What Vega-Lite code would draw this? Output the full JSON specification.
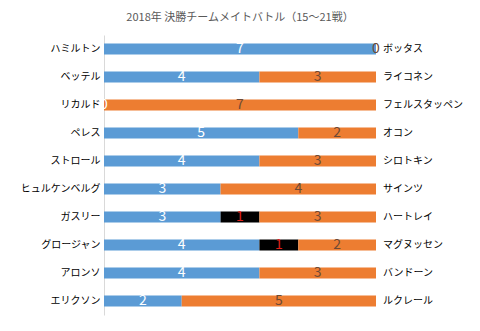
{
  "$schema": "https://vega.github.io/schema/vega-lite/v6.json",
  "width": 272,
  "height": 280,
  "autosize": {"type": "none"},
  "padding": {"left": 104, "top": 35, "right": 104, "bottom": 16},
  "background": "white",
  "title": {"text": "2018年 決勝チームメイトバトル（15～21戦）", "fontSize": 11, "font": "Noto Sans CJK JP", "fontWeight": "normal", "color": "#595959", "offset": 12},
  "config": {"view": {"stroke": null}, "font": "Noto Sans CJK JP"},
  "datasets": {
    "seg": [
      {"driver": "ハミルトン", "seg": "blue", "order": 1, "value": 7},
      {"driver": "ハミルトン", "seg": "orange", "order": 3, "value": 0},
      {"driver": "ベッテル", "seg": "blue", "order": 1, "value": 4},
      {"driver": "ベッテル", "seg": "orange", "order": 3, "value": 3},
      {"driver": "リカルド", "seg": "blue", "order": 1, "value": 0},
      {"driver": "リカルド", "seg": "orange", "order": 3, "value": 7},
      {"driver": "ペレス", "seg": "blue", "order": 1, "value": 5},
      {"driver": "ペレス", "seg": "orange", "order": 3, "value": 2},
      {"driver": "ストロール", "seg": "blue", "order": 1, "value": 4},
      {"driver": "ストロール", "seg": "orange", "order": 3, "value": 3},
      {"driver": "ヒュルケンベルグ", "seg": "blue", "order": 1, "value": 3},
      {"driver": "ヒュルケンベルグ", "seg": "orange", "order": 3, "value": 4},
      {"driver": "ガスリー", "seg": "blue", "order": 1, "value": 3},
      {"driver": "ガスリー", "seg": "black", "order": 2, "value": 1},
      {"driver": "ガスリー", "seg": "orange", "order": 3, "value": 3},
      {"driver": "グロージャン", "seg": "blue", "order": 1, "value": 4},
      {"driver": "グロージャン", "seg": "black", "order": 2, "value": 1},
      {"driver": "グロージャン", "seg": "orange", "order": 3, "value": 2},
      {"driver": "アロンソ", "seg": "blue", "order": 1, "value": 4},
      {"driver": "アロンソ", "seg": "orange", "order": 3, "value": 3},
      {"driver": "エリクソン", "seg": "blue", "order": 1, "value": 2},
      {"driver": "エリクソン", "seg": "orange", "order": 3, "value": 5}
    ],
    "pairs": [
      {"driver": "ハミルトン", "teammate": "ボッタス"},
      {"driver": "ベッテル", "teammate": "ライコネン"},
      {"driver": "リカルド", "teammate": "フェルスタッペン"},
      {"driver": "ペレス", "teammate": "オコン"},
      {"driver": "ストロール", "teammate": "シロトキン"},
      {"driver": "ヒュルケンベルグ", "teammate": "サインツ"},
      {"driver": "ガスリー", "teammate": "ハートレイ"},
      {"driver": "グロージャン", "teammate": "マグヌッセン"},
      {"driver": "アロンソ", "teammate": "バンドーン"},
      {"driver": "エリクソン", "teammate": "ルクレール"}
    ]
  },
  "encoding": {
    "y": {
      "field": "driver", "type": "nominal",
      "sort": ["ハミルトン", "ベッテル", "リカルド", "ペレス", "ストロール", "ヒュルケンベルグ", "ガスリー", "グロージャン", "アロンソ", "エリクソン"],
      "scale": {"paddingInner": 0.6, "paddingOuter": 0.3},
      "axis": {"title": null, "ticks": false, "domainColor": "#d9d9d9", "labelFontSize": 10, "labelColor": "#000000", "labelPadding": 4, "labelFont": "Noto Sans CJK JP"}
    }
  },
  "layer": [
    {
      "data": {"name": "seg"},
      "mark": {"type": "bar"},
      "encoding": {
        "x": {"field": "value", "type": "quantitative", "stack": "zero", "scale": {"domain": [0, 7], "nice": false}, "axis": null},
        "color": {"field": "seg", "type": "nominal", "scale": {"domain": ["blue", "black", "orange"], "range": ["#5B9BD5", "#000000", "#ED7D31"]}, "legend": null},
        "order": {"field": "order", "type": "quantitative"}
      }
    },
    {
      "data": {"name": "seg"},
      "transform": [
        {"stack": "value", "groupby": ["driver"], "sort": [{"field": "order"}], "as": ["x0", "x1"]},
        {"calculate": "(datum.x0 + datum.x1) / 2", "as": "mid"}
      ],
      "mark": {"type": "text", "fontSize": 14, "baseline": "middle", "align": "center"},
      "encoding": {
        "x": {"field": "mid", "type": "quantitative"},
        "text": {"field": "value", "type": "quantitative"},
        "color": {"field": "seg", "type": "nominal", "scale": {"domain": ["blue", "black", "orange"], "range": ["#ffffff", "#e0201a", "#6e4a35"]}, "legend": null}
      }
    },
    {
      "data": {"name": "pairs"},
      "mark": {"type": "text", "align": "left", "baseline": "middle", "dx": 7, "fontSize": 10, "color": "#000000"},
      "encoding": {
        "x": {"datum": 7, "type": "quantitative"},
        "text": {"field": "teammate"}
      }
    }
  ],
  "resolve": {"scale": {"color": "independent"}}
}
